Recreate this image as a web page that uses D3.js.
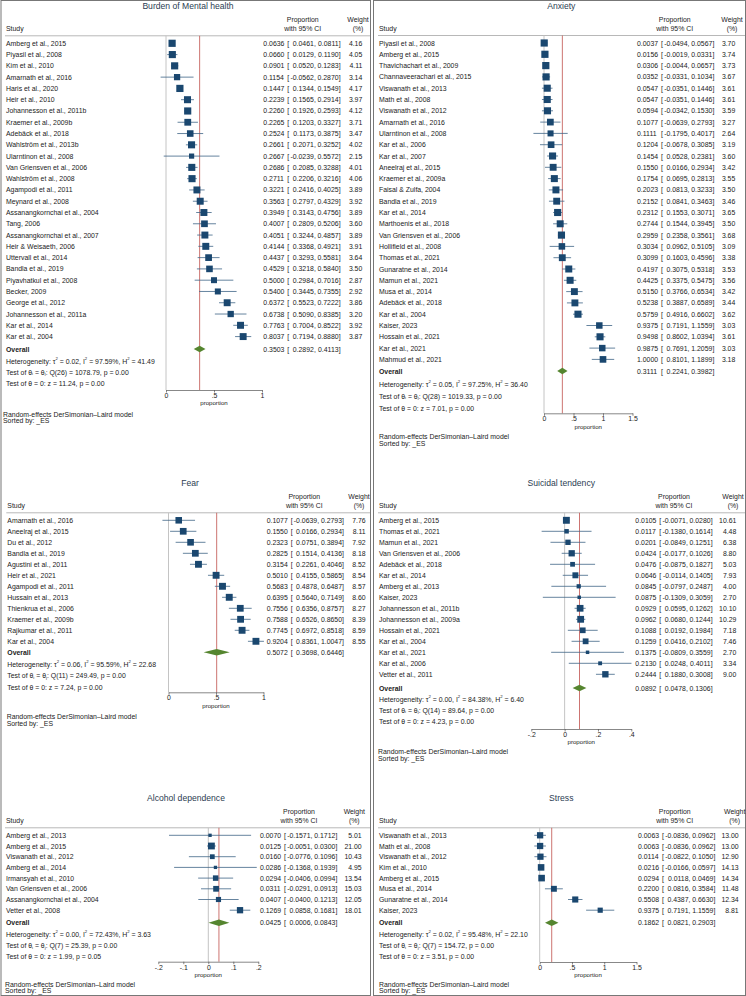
<!DOCTYPE html>
<html><head><meta charset="utf-8">
<script src="https://cdn.jsdelivr.net/npm/d3@7"></script>
<style>
body{margin:0;background:#fff}
svg{display:block}
text{font-family:"Liberation Sans",Arial,Helvetica,sans-serif;white-space:pre}
</style>
</head><body>
<svg id="c" width="746" height="996"></svg>
<script>
// ---------------- DATA ----------------
const burdenStudies = ["Amberg et al., 2015","Piyasil et al., 2008","Kim et al., 2010","Amarnath et al., 2016","Haris et al., 2020","Heir et al., 2010","Johannesson et al., 2011b","Kraemer et al., 2009b","Adebäck et al., 2018","Wahlström et al., 2013b","Ularntinon et al., 2008","Van Griensven et al., 2006","Wahlström et al., 2008","Agampodi et al., 2011","Meynard et al., 2008","Assanangkornchai et al., 2004","Tang, 2006","Assanangkornchai et al., 2007","Heir & Weisaeth, 2006","Uttervall et al., 2014","Bandla et al., 2019","Piyavhatkul et al., 2008","Becker, 2009","George et al., 2012","Johannesson et al., 2011a","Kar et al., 2014","Kar et al., 2004"];
const burdenES = [0.0636,0.0660,0.0901,0.1154,0.1447,0.2239,0.2260,0.2265,0.2524,0.2661,0.2667,0.2686,0.2711,0.3221,0.3563,0.3949,0.4007,0.4051,0.4144,0.4437,0.4529,0.5000,0.5400,0.6372,0.6738,0.7763,0.8037];
const burdenLo = [0.0461,0.0129,0.0520,-0.0562,0.1344,0.1565,0.1926,0.1203,0.1173,0.2071,-0.0239,0.2085,0.2206,0.2416,0.2797,0.3143,0.2809,0.3244,0.3368,0.3293,0.3218,0.2984,0.3445,0.5523,0.5090,0.7004,0.7194];
const burdenHi = [0.0811,0.1190,0.1283,0.2870,0.1549,0.2914,0.2593,0.3327,0.3875,0.3252,0.5572,0.3288,0.3216,0.4025,0.4329,0.4756,0.5206,0.4857,0.4921,0.5581,0.5840,0.7016,0.7355,0.7222,0.8385,0.8522,0.8880];
const burdenWeight = [4.16,4.05,4.11,3.14,4.17,3.97,4.12,3.71,3.47,4.02,2.15,4.01,4.06,3.89,3.92,3.89,3.60,3.89,3.91,3.64,3.50,2.87,2.92,3.86,3.20,3.92,3.87];
const burdenOverall = [0.3503,0.2892,0.4113];
const burdenHet = ["0.02","97.59","41.49"];
const burdenTests = ["26","1078.79","0.00","11.24","0.00"];
const burdenTicks = [0,0.5,1];

const anxietyStudies = ["Piyasil et al., 2008","Amberg et al., 2015","Thavichachart et al., 2009","Channaveerachari et al., 2015","Viswanath et al., 2013","Math et al., 2008","Viswanath et al., 2012","Amarnath et al., 2016","Ularntinon et al., 2008","Kar et al., 2006","Kar et al., 2007","Aneelraj et al., 2015","Kraemer et al., 2009a","Faisal & Zulfa, 2004","Bandla et al., 2019","Kar et al., 2014","Marthoenis et al., 2018","Van Griensven et al., 2006","Hollifield et al., 2008","Thomas et al., 2021","Gunaratne et al., 2014","Mamun et al., 2021","Musa et al., 2014","Adebäck et al., 2018","Kar et al., 2004","Kaiser, 2023","Hossain et al., 2021","Kar et al., 2021","Mahmud et al., 2021"];
const anxietyES = [0.0037,0.0156,0.0306,0.0352,0.0547,0.0547,0.0594,0.1077,0.1111,0.1204,0.1454,0.1550,0.1754,0.2023,0.2152,0.2312,0.2744,0.2959,0.3034,0.3099,0.4197,0.4425,0.5150,0.5238,0.5759,0.9375,0.9498,0.9875,1.0000];
const anxietyLo = [-0.0494,-0.0019,-0.0044,-0.0331,-0.0351,-0.0351,-0.0342,-0.0639,-0.1795,-0.0678,0.0528,0.0166,0.0695,0.0813,0.0841,0.1553,0.1544,0.2358,0.0962,0.1603,0.3075,0.3375,0.3766,0.3887,0.4916,0.7191,0.8602,0.7691,0.8101];
const anxietyHi = [0.0567,0.0331,0.0657,0.1034,0.1446,0.1446,0.1530,0.2793,0.4017,0.3085,0.2381,0.2934,0.2813,0.3233,0.3463,0.3071,0.3945,0.3561,0.5105,0.4596,0.5318,0.5475,0.6534,0.6589,0.6602,1.1559,1.0394,1.2059,1.1899];
const anxietyWeight = [3.70,3.74,3.73,3.67,3.61,3.61,3.59,3.27,2.64,3.19,3.60,3.42,3.55,3.50,3.46,3.65,3.50,3.68,3.09,3.38,3.53,3.56,3.42,3.44,3.62,3.03,3.61,3.03,3.18];
const anxietyOverall = [0.3111,0.2241,0.3982];
const anxietyHet = ["0.05","97.25","36.40"];
const anxietyTests = ["28","1019.33","0.00","7.01","0.00"];
const anxietyTicks = [0,0.5,1,1.5];

const fearStudies = ["Amarnath et al., 2016","Aneelraj et al., 2015","Du et al., 2012","Bandla et al., 2019","Agustini et al., 2011","Heir et al., 2021","Agampodi et al., 2011","Hussain et al., 2013","Thienkrua et al., 2006","Kraemer et al., 2009b","Rajkumar et al., 2011","Kar et al., 2004"];
const fearES = [0.1077,0.1550,0.2323,0.2825,0.3154,0.5010,0.5683,0.6395,0.7556,0.7588,0.7745,0.9204];
const fearLo = [-0.0639,0.0166,0.0751,0.1514,0.2261,0.4155,0.4878,0.5640,0.6356,0.6526,0.6972,0.8361];
const fearHi = [0.2793,0.2934,0.3894,0.4136,0.4046,0.5865,0.6487,0.7149,0.8757,0.8650,0.8518,1.0047];
const fearWeight = [7.76,8.11,7.92,8.18,8.52,8.54,8.57,8.60,8.27,8.39,8.59,8.55];
const fearOverall = [0.5072,0.3698,0.6446];
const fearHet = ["0.06","95.59","22.68"];
const fearTests = ["11","249.49","0.00","7.24","0.00"];
const fearTicks = [0,0.5,1];

const suicideStudies = ["Amberg et al., 2015","Thomas et al., 2021","Mamun et al., 2021","Van Griensven et al., 2006","Adebäck et al., 2018","Kar et al., 2014","Amberg et al., 2013","Kaiser, 2023","Johannesson et al., 2011b","Johannesson et al., 2009a","Hossain et al., 2021","Kar et al., 2004","Kar et al., 2021","Kar et al., 2006","Vetter et al., 2011"];
const suicideES = [0.0105,0.0117,0.0201,0.0424,0.0476,0.0646,0.0845,0.0875,0.0929,0.0962,0.1088,0.1259,0.1375,0.2130,0.2444];
const suicideLo = [-0.0071,-0.1380,-0.0849,-0.0177,-0.0875,-0.0114,-0.0797,-0.1309,0.0595,0.0680,0.0192,0.0416,-0.0809,0.0248,0.1880];
const suicideHi = [0.0280,0.1614,0.1251,0.1026,0.1827,0.1405,0.2487,0.3059,0.1262,0.1244,0.1984,0.2102,0.3559,0.4011,0.3008];
const suicideWeight = [10.61,4.48,6.38,8.80,5.03,7.93,4.00,2.70,10.10,10.29,7.18,7.46,2.70,3.34,9.00];
const suicideOverall = [0.0892,0.0478,0.1306];
const suicideHet = ["0.00","84.38","6.40"];
const suicideTests = ["14","89.64","0.00","4.23","0.00"];
const suicideTicks = [-0.2,0,0.2,0.4];

const alcoholStudies = ["Amberg et al., 2013","Amberg et al., 2015","Viswanath et al., 2012","Amberg et al., 2014","Irmansyah et al., 2010","Van Griensven et al., 2006","Assanangkornchai et al., 2004","Vetter et al., 2008"];
const alcoholES = [0.0070,0.0125,0.0160,0.0286,0.0294,0.0311,0.0407,0.1269];
const alcoholLo = [-0.1571,-0.0051,-0.0776,-0.1368,-0.0406,-0.0291,-0.0400,0.0858];
const alcoholHi = [0.1712,0.0300,0.1096,0.1939,0.0994,0.0913,0.1213,0.1681];
const alcoholWeight = [5.01,21.00,10.43,4.95,13.54,15.03,12.05,18.01];
const alcoholOverall = [0.0425,0.0006,0.0843];
const alcoholHet = ["0.00","72.43","3.63"];
const alcoholTests = ["7","25.39","0.00","1.99","0.05"];
const alcoholTicks = [-0.2,-0.1,0,0.1,0.2];

const stressStudies = ["Viswanath et al., 2013","Math et al., 2008","Viswanath et al., 2012","Kim et al., 2010","Amberg et al., 2015","Musa et al., 2014","Gunaratne et al., 2014","Kaiser, 2023"];
const stressES = [0.0063,0.0063,0.0114,0.0216,0.0294,0.2200,0.5508,0.9375];
const stressLo = [-0.0836,-0.0836,-0.0822,-0.0166,0.0118,0.0816,0.4387,0.7191];
const stressHi = [0.0962,0.0962,0.1050,0.0597,0.0469,0.3584,0.6630,1.1559];
const stressWeight = [13.00,13.00,12.90,14.13,14.34,11.48,12.34,8.81];
const stressOverall = [0.1862,0.0821,0.2903];
const stressHet = ["0.02","95.48","22.10"];
const stressTests = ["7","154.72","0.00","3.51","0.00"];
const stressTicks = [0,0.5,1,1.5];

// ---------------- DRAWING ----------------
const svg = d3.select("#c");
const FS = 6.9;
const TXT = "#222";
const BOX = "#1a476f";
const CI = "#3f6487";
const DIAM = "#55852f";
const REDL = "#c0504d";
const ZEROL = "#c4c4c4";
const TITLE = "#2b3d52";

// column frames
svg.append("rect").attr("x",1).attr("y",0.5).attr("width",369.5).attr("height",995).attr("fill","none").attr("stroke","#777").attr("stroke-width",1);
svg.append("rect").attr("x",373.5).attr("y",0.5).attr("width",372).attr("height",995).attr("fill","none").attr("stroke","#777").attr("stroke-width",1);

const tickFmt = v => String(+v.toFixed(4)).replace(/^(-?)0\./, "$1.");
const f4 = v => v.toFixed(4);

function rich(g, x, y, parts, opts = {}) {
  const t = g.append("text").attr("x", x).attr("y", y).attr("dominant-baseline","central")
    .attr("font-size", FS).attr("fill", TXT);
  let off = 0;
  parts.forEach(([s, m]) => {
    const target = m === 1 ? -2.2 : (m === -1 ? 1.6 : 0);
    const ts = t.append("tspan").attr("dy", target - off).text(s);
    if (m !== 0) ts.attr("font-size", FS * 0.62);
    off = target;
  });
  return t;
}

function text(g, x, y, s, anchor = "start", extra = {}) {
  const t = g.append("text").attr("x", x).attr("y", y).attr("dominant-baseline","central")
    .attr("font-size", extra.fs || FS).attr("fill", extra.fill || TXT)
    .attr("text-anchor", anchor).text(s);
  if (extra.bold) t.attr("font-weight","bold");
  return t;
}

function panel(L, D) {
  const g = svg.append("g");
  const n = D.studies.length;
  const x = d3.scaleLinear().domain(d3.extent(D.ticks)).range(L.xr);
  const y0 = L.T + 37;
  const y = d3.scaleLinear().domain([0, n - 1]).range([y0, y0 + (n - 1) * L.step]);
  const wmax = d3.max(D.weight);
  const topLine = L.T + 29.5;

  // titles / headers
  text(g, L.titleX, L.T, D.title, "middle", {fs: 8.6, fill: TITLE});
  text(g, L.labelX, L.T + 22.5, "Study");
  text(g, L.propX, L.T + 13, "Proportion", "middle");
  text(g, L.propX, L.T + 22.5, "with 95% CI", "middle");
  text(g, L.wtX, L.T + 13, "Weight", "middle");
  text(g, L.wtX, L.T + 22.5, "(%)", "middle");
  g.append("line").attr("x1", L.labelX - 1).attr("x2", L.right).attr("y1", topLine).attr("y2", topLine)
    .attr("stroke", "#9a9a9a").attr("stroke-width", 0.7);

  // reference lines
  g.append("line").attr("x1", x(0)).attr("x2", x(0)).attr("y1", topLine).attr("y2", L.axisY)
    .attr("stroke", ZEROL).attr("stroke-width", 1);
  g.append("line").attr("x1", x(D.overall[0])).attr("x2", x(D.overall[0])).attr("y1", topLine).attr("y2", L.axisY)
    .attr("stroke", REDL).attr("stroke-width", 0.8);

  // studies
  D.studies.forEach((s, i) => {
    const yy = y(i);
    g.append("line").attr("x1", x(D.lo[i])).attr("x2", x(D.hi[i])).attr("y1", yy).attr("y2", yy)
      .attr("stroke", CI).attr("stroke-width", 0.8);
    const side = L.boxMax * Math.sqrt(D.weight[i] / wmax);
    g.append("rect").attr("x", x(D.es[i]) - side / 2).attr("y", yy - side / 2)
      .attr("width", side).attr("height", side).attr("fill", BOX);
    text(g, L.labelX, yy, s);
    esText(g, L.esX, yy, D.es[i], D.lo[i], D.hi[i]);
    text(g, L.wtR, yy, D.weight[i].toFixed(2), "end");
  });

  // overall
  const oy = L.overallY;
  const [oe, ol, oh] = D.overall;
  g.append("path").attr("d", `M${x(ol)},${oy}L${x(oe)},${oy - 3.2}L${x(oh)},${oy}L${x(oe)},${oy + 3.2}Z`)
    .attr("fill", DIAM);
  text(g, L.labelX, oy, "Overall", "start", {bold: true});
  esText(g, L.esX, oy, oe, ol, oh);

  // stats
  rich(g, L.labelX, L.stats[0], [["Heterogeneity: τ",0],["2",1],[" = " + D.het[0] + ", I",0],["2",1],[" = " + D.het[1] + "%, H",0],["2",1],[" = " + D.het[2],0]]);
  rich(g, L.labelX, L.stats[1], [["Test of θ",0],["i",-1],[" = θ",0],["j",-1],[": Q(" + D.tests[0] + ") = " + D.tests[1] + ", p = " + D.tests[2],0]]);
  rich(g, L.labelX, L.stats[2], [["Test of θ = 0: z = " + D.tests[3] + ", p = " + D.tests[4],0]]);

  // axis
  const ax = g.append("g").attr("transform", `translate(0,${L.axisY})`)
    .call(d3.axisBottom(x).tickValues(D.ticks).tickFormat(tickFmt).tickSize(2.5).tickSizeOuter(0).tickPadding(0.5));
  ax.select(".domain").attr("stroke", "#555").attr("stroke-width", 0.7);
  ax.selectAll(".tick line").attr("stroke", "#555").attr("stroke-width", 0.7);
  ax.selectAll(".tick text").attr("font-size", FS).attr("fill", TXT)
    .attr("font-family", '"Liberation Sans",Arial,sans-serif');
  text(g, (L.xr[0] + L.xr[1]) / 2, L.axisY + 12.8, "proportion", "middle", {fs: 6.1});

  text(g, L.noteX, L.noteY, "Random-effects DerSimonian–Laird model");
  text(g, L.noteX, L.noteY + 6.6, "Sorted by: _ES");
}

function esText(g, x0, yy, es, lo, hi) {
  text(g, x0, yy, f4(es));
  text(g, x0 + 24, yy, "[");
  text(g, x0 + 50.5, yy, f4(lo), "end");
  text(g, x0 + 50.6, yy, ",");
  text(g, x0 + 75.3, yy, f4(hi), "end");
  text(g, x0 + 75.4, yy, "]");
}

function mk(title, st, es, lo, hi, w, ov, het, tests, ticks) {
  return {title, studies: st, es, lo, hi, weight: w, overall: ov, het, tests, ticks};
}

panel({T:6.3, step:11.28, xr:[166,262], titleX:188, labelX:6, propX:302.7, wtX:358, esX:263.3, wtR:362.3, right:370,
       overallY:349, stats:[360.5,371.5,382.5], axisY:390, noteX:3, noteY:414.3, boxMax:7.2},
      mk("Burden of Mental health", burdenStudies, burdenES, burdenLo, burdenHi, burdenWeight, burdenOverall, burdenHet, burdenTests, burdenTicks));

panel({T:6, step:11.3, xr:[544,632.5], titleX:561.3, labelX:379, propX:674.7, wtX:732, esX:637, wtR:735.3, right:745,
       overallY:371, stats:[383.5,395.7,407.7], axisY:413.3, noteX:379, noteY:436.7, boxMax:7.2},
      mk("Anxiety", anxietyStudies, anxietyES, anxietyLo, anxietyHi, anxietyWeight, anxietyOverall, anxietyHet, anxietyTests, anxietyTicks));

panel({T:483.3, step:11.0, xr:[168.5,263.5], titleX:190, labelX:7.3, propX:304.3, wtX:359, esX:266.7, wtR:365.7, right:370,
       overallY:652.3, stats:[663.5,675,686.5], axisY:692.3, noteX:6.7, noteY:716.7, boxMax:6.9},
      mk("Fear", fearStudies, fearES, fearLo, fearHi, fearWeight, fearOverall, fearHet, fearTests, fearTicks));

panel({T:483.3, step:11.0, xr:[531.3,631.3], titleX:561.3, labelX:379, propX:674, wtX:733, esX:635.3, wtR:736.3, right:745,
       overallY:688, stats:[698.5,709.5,720.7], axisY:729, noteX:378, noteY:751.7, boxMax:6.9},
      mk("Suicidal tendency", suicideStudies, suicideES, suicideLo, suicideHi, suicideWeight, suicideOverall, suicideHet, suicideTests, suicideTicks));

panel({T:798.3, step:10.7, xr:[158.3,258.3], titleX:186, labelX:6, propX:299, wtX:354.3, esX:260, wtR:361.7, right:370,
       overallY:922.7, stats:[933.5,945,956], axisY:961.7, noteX:5, noteY:984.3, boxMax:6.8},
      mk("Alcohol dependence", alcoholStudies, alcoholES, alcoholLo, alcoholHi, alcoholWeight, alcoholOverall, alcoholHet, alcoholTests, alcoholTicks));

panel({T:798.3, step:10.7, xr:[539.7,636.5], titleX:561.3, labelX:379, propX:674.7, wtX:734.7, esX:638, wtR:738.7, right:745,
       overallY:922.7, stats:[933.5,945,956], axisY:962, noteX:379, noteY:984.3, boxMax:6.6},
      mk("Stress", stressStudies, stressES, stressLo, stressHi, stressWeight, stressOverall, stressHet, stressTests, stressTicks));
</script>
</body></html>
